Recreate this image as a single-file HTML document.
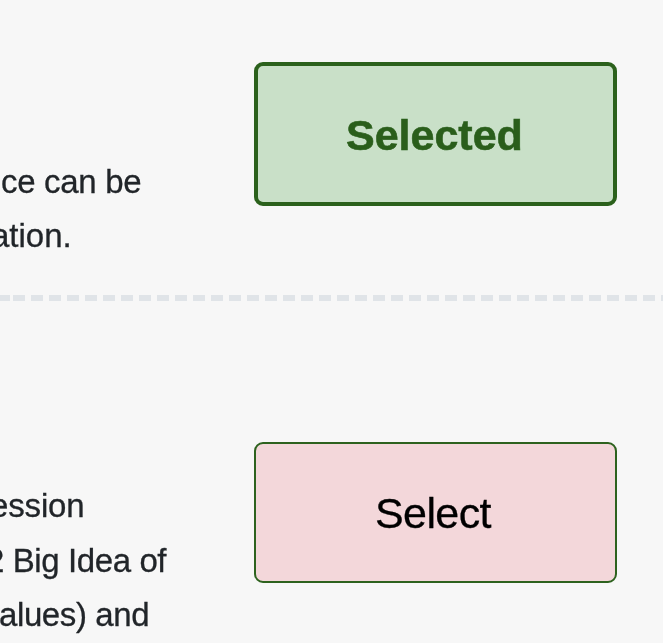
<!DOCTYPE html>
<html><head><meta charset="utf-8">
<style>
html,body{margin:0;padding:0;}
body{width:663px;height:643px;background:#f7f7f7;position:relative;overflow:hidden;font-family:"Liberation Sans",sans-serif;}
.t{position:absolute;white-space:nowrap;font-size:33px;line-height:33px;color:#212529;-webkit-text-stroke:0.3px #212529;will-change:transform;}
.dash{position:absolute;left:0;top:295px;width:663px;height:6px;
 background:repeating-linear-gradient(90deg,#e0e4e8 0 12px,transparent 12px 18px);background-position:13px 0;}
.btn{position:absolute;box-sizing:border-box;left:254px;width:363px;border-radius:9px;}
.b1{top:62px;height:144px;background:#c9e0c8;border:4px solid #2b611c;}
.b2{top:442px;height:141px;background:#f3d7da;border:2px solid #2d621e;}
.lab{position:absolute;white-space:nowrap;line-height:43px;will-change:transform;}
.l1{color:#2a5e1b;font-weight:bold;font-size:43px;-webkit-text-stroke:0.6px #2a5e1b;}
.l2{color:#000;font-size:43px;letter-spacing:-0.6px;-webkit-text-stroke:0.3px #000;}
</style></head><body>
<div class="t" style="left:1.25px;top:165px;letter-spacing:-0.3px">ce can be</div>
<div class="t" style="left:-8.8px;top:219px">ation.</div>
<div class="dash"></div>
<div class="t" style="left:-10.3px;top:489px;letter-spacing:-0.15px">ession</div>
<div class="t" style="left:-14.5px;top:544px;letter-spacing:-0.4px">2 Big Idea of</div>
<div class="t" style="left:-1.2px;top:598px;letter-spacing:-0.4px">alues) and</div>
<div class="btn b1"></div>
<div class="lab l1" style="left:346px;top:113.5px">Selected</div>
<div class="btn b2"></div>
<div class="lab l2" style="left:375px;top:492px">Select</div>
</body></html>
